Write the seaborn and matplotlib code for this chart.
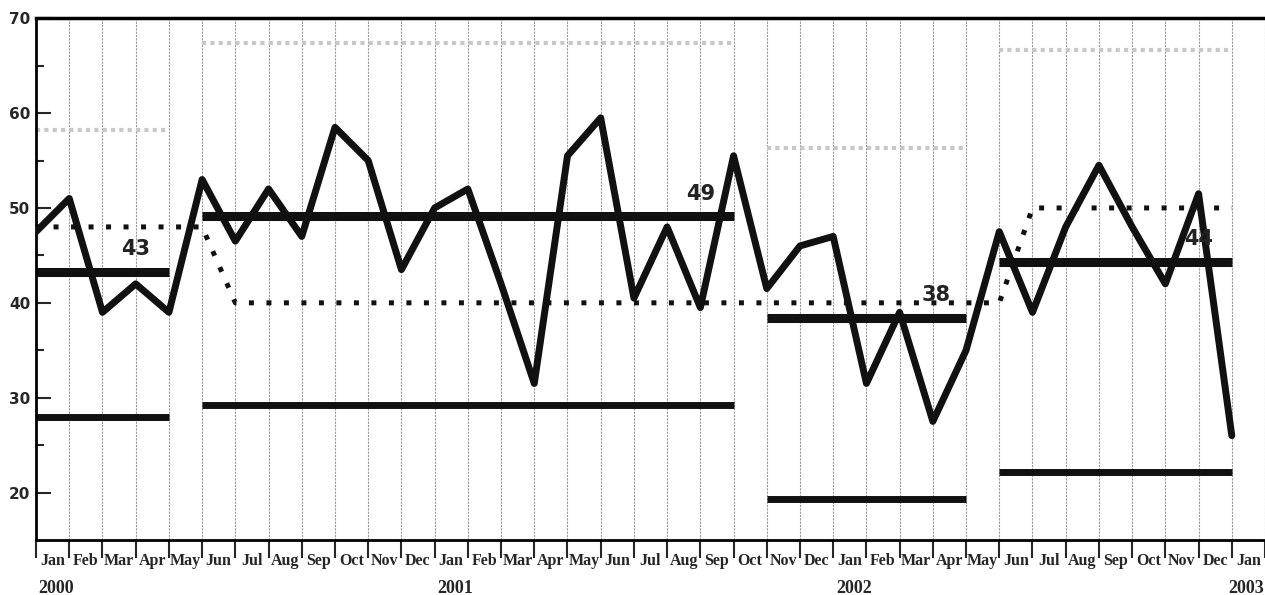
import numpy as np
import pandas as pd
import seaborn as sns
import matplotlib
matplotlib.use("Agg")
import matplotlib.pyplot as plt

# Monthly values, Jan 2000 .. Jan 2003
month_names = ["Jan", "Feb", "Mar", "Apr", "May", "Jun",
               "Jul", "Aug", "Sep", "Oct", "Nov", "Dec"]
month_labels = month_names * 3 + ["Jan"]
year_labels = ["2000", "2001", "2002", "2003"]
year_index = [0, 12, 24, 36]
values = [47.5, 51, 39, 42, 39, 53, 46.5, 52, 47, 58.5, 55, 43.5,
          50, 52, 42, 31.5, 55.5, 59.5, 40.5, 48, 39.5, 55.5, 41.5, 46,
          47, 31.5, 39, 27.5, 35, 47.5, 39, 48, 54.5, 48, 42, 51.5, 26]

# Phases: start / end month index, centre line, upper and lower limits
seg_start = [0, 5, 22, 29]
seg_end = [4, 21, 28, 36]
seg_mean = [43.3, 49.1, 38.4, 44.3]
seg_upper = [58.2, 67.4, 56.3, 66.6]
seg_lower = [28.0, 29.2, 19.3, 22.2]
seg_label = ["43", "49", "38", "44"]
label_index = [3.0, 20.0, 27.1, 35.0]

# Dotted shift line
shift_x = [0, 5, 6, 29, 30, 36]
shift_y = [48, 48, 40, 40, 50, 50]

df = pd.DataFrame({"month": np.arange(len(values)), "value": values})

sns.set_style("white")
fig = plt.figure(figsize=(12.65, 5.95), dpi=100)
ax = fig.add_axes([0.0285, 0.0924, 0.9715, 0.877])

# vertical month grid
for i in range(1, 38):
    ax.axvline(i, color="#9a9a9a", lw=0.8, ls=(0, (2, 1)), zorder=0)

# limits and centre lines
ax.hlines(seg_upper, seg_start, seg_end, color="#c8c8c8", lw=3, ls=(0, (1, 1)), zorder=1)
ax.hlines(seg_lower, seg_start, seg_end, color="#111111", lw=5, zorder=2)
ax.hlines(seg_mean, seg_start, seg_end, color="#111111", lw=6.5, zorder=2)
ax.plot(shift_x, shift_y, color="#111111", lw=3.6, ls=(0, (1, 2.5)), zorder=2)

sns.lineplot(data=df, x="month", y="value", color="#111111", lw=5, ax=ax, zorder=3)

for xi, m, t in zip(label_index, seg_mean, seg_label):
    ax.text(xi, m + 2.4, t, ha="center", va="center", fontsize=15,
            fontweight="bold", color="#222222", zorder=4)

ax.set_xlim(0, 37)
ax.set_ylim(15, 70)
ax.set_xlabel("")
ax.set_ylabel("")

# y ticks (inside)
ax.set_yticks([20, 30, 40, 50, 60, 70])
ax.set_yticks([25, 35, 45, 55, 65], minor=True)
ax.tick_params(axis="y", which="major", direction="in", length=11, width=1.5,
               labelsize=11, pad=4, left=True)
ax.tick_params(axis="y", which="minor", direction="in", length=6, width=1.5, left=True)
for lbl in ax.get_yticklabels():
    lbl.set_fontweight("bold")

# x ticks: tick marks at month boundaries, labels centred in each month
ax.set_xticks(np.arange(38))
ax.set_xticklabels([])
ax.tick_params(axis="x", which="major", direction="out", length=13, width=1.5, bottom=True)
ax.set_xticks(np.arange(37) + 0.5, minor=True)
ax.set_xticklabels(month_labels, minor=True, fontfamily="Liberation Serif",
                   fontweight="bold", fontsize=11.5)
ax.tick_params(axis="x", which="minor", length=0, pad=9)

# year labels; the last one is kept inside the figure edge
for yi, yl in zip(year_index, year_labels):
    last = yi == year_index[-1]
    ax.text(36.98 if last else yi + 0.08, -0.092, yl,
            transform=ax.get_xaxis_transform(),
            ha="right" if last else "left", va="center",
            fontfamily="Liberation Serif", fontweight="bold", fontsize=13,
            clip_on=False)

for s in ["left", "bottom"]:
    ax.spines[s].set_linewidth(2)
    ax.spines[s].set_color("black")
ax.spines["top"].set_linewidth(2.5)
ax.spines["top"].set_color("black")
ax.spines["right"].set_visible(False)

fig.savefig("out.png", dpi=100)
